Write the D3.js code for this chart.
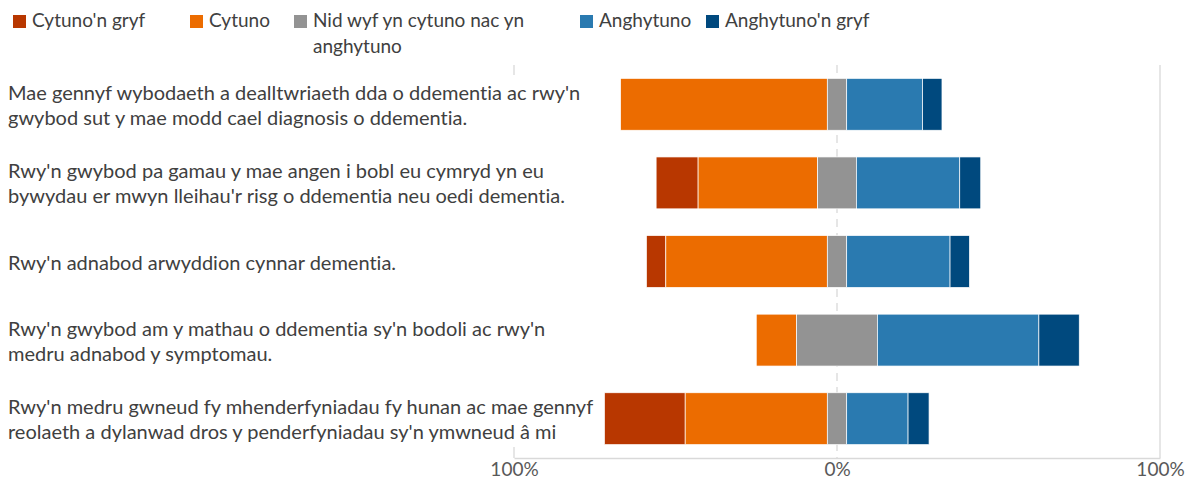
<!DOCTYPE html>
<html>
<head>
<meta charset="utf-8">
<script src="https://cdn.jsdelivr.net/npm/d3@7"></script>
<style>
  body { margin: 0; background: #fff; }
  text { font-family: Lato, "Noto Sans", sans-serif; font-variant-ligatures: none; }
</style>
</head>
<body>
<script>
// Statements (each split into the two lines shown)
const categories = [
    ["Mae gennyf wybodaeth a dealltwriaeth dda o ddementia ac rwy'n", "gwybod sut y mae modd cael diagnosis o ddementia."],
    ["Rwy'n gwybod pa gamau y mae angen i bobl eu cymryd yn eu", "bywydau er mwyn lleihau'r risg o ddementia neu oedi dementia."],
    ["Rwy'n adnabod arwyddion cynnar dementia."],
    ["Rwy'n gwybod am y mathau o ddementia sy'n bodoli ac rwy'n", "medru adnabod y symptomau."],
    ["Rwy'n medru gwneud fy mhenderfyniadau fy hunan ac mae gennyf", "reolaeth a dylanwad dros y penderfyniadau sy'n ymwneud â mi"]
];

const seriesNames = ["Cytuno'n gryf", "Cytuno", "Nid wyf yn cytuno nac yn anghytuno", "Anghytuno", "Anghytuno'n gryf"];

// percentages per statement
const cytunoGryf = [0, 13, 6, 0, 25];
const cytuno = [64, 37, 50, 12.5, 44];
const niwtral = [6, 12, 6, 25, 6];
const anghytuno = [23.5, 32, 32, 50, 19];
const anghytunoGryf = [6, 6.5, 6, 12.5, 6.5];

const tickValues = [-100, 0, 100];

const colors = ["#b83700", "#ec6c00", "#939393", "#2a7ab0", "#00497e"];

const width = 1194;
const height = 478;
const marginTop = 65;
const marginBottom = 20;
const plotLeft = 514;
const plotRight = 1160;

const seriesValues = [cytunoGryf, cytuno, niwtral, anghytuno, anghytunoGryf];

// build the stacked segments, neutral centred on zero
const rows = categories.map((c, i) => {
    let start = -(cytunoGryf[i] + cytuno[i] + niwtral[i] / 2);
    const segs = seriesValues.map((vals, s) => {
        const seg = { row: i, series: s, x0: start, x1: start + vals[i] };
        start += vals[i];
        return seg;
    });
    return segs;
}).flat();

const x = d3.scaleLinear()
    .domain([-100, 100])
    .range([plotLeft, plotRight]);

const y = d3.scaleBand()
    .domain(d3.range(categories.length))
    .range([marginTop, height - marginBottom])
    .paddingInner(0.34)
    .paddingOuter(0.17);

const svg = d3.select("body").append("svg")
    .attr("width", width)
    .attr("height", height);

// gridlines
svg.append("g")
    .selectAll("line")
    .data(tickValues)
    .join("line")
    .attr("x1", d => x(d))
    .attr("x2", d => x(d))
    .attr("y1", marginTop)
    .attr("y2", height - marginBottom)
    .attr("stroke", "#d9d9d9")
    .attr("stroke-width", 1.3)
    .attr("stroke-dasharray", d => d === 0 ? "8,6" : null);

// category labels (white box behind them hides the gridline like the original)
const labels = svg.append("g");
labels.append("rect")
    .attr("x", 0)
    .attr("y", marginTop + 10)
    .attr("width", 592)
    .attr("height", height - marginBottom - marginTop - 21)
    .attr("fill", "#fff");

labels.selectAll("text")
    .data(categories)
    .join("text")
    .attr("x", 8)
    .attr("y", (d, i) => y(i) + y.bandwidth() / 2 - (d.length - 1) * 12.5)
    .attr("fill", "#404040")
    .style("font-size", "20px")
    .attr("dominant-baseline", "central")
    .selectAll("tspan")
    .data(d => d)
    .join("tspan")
    .attr("x", 8)
    .attr("dy", (d, j) => j === 0 ? 0 : 25)
    .text(d => d);

// x axis
const xAxis = d3.axisBottom(x)
    .tickValues(tickValues)
    .tickFormat(d => Math.abs(d) + "%")
    .tickSize(0)
    .tickPadding(4);

svg.append("g")
    .attr("transform", `translate(0,${height - marginBottom})`)
    .call(xAxis)
    .call(g => g.select(".domain").attr("stroke", "#d9d9d9").attr("stroke-width", 1.3))
    .call(g => g.selectAll("text")
        .style("font-size", "19px")
        .style("font-family", "Lato, 'Noto Sans', sans-serif")
        .attr("fill", "#595959"));

// bars
svg.append("g")
    .selectAll("rect")
    .data(rows)
    .join("rect")
    .attr("x", d => x(d.x0))
    .attr("y", d => y(d.row))
    .attr("width", d => x(d.x1) - x(d.x0))
    .attr("height", y.bandwidth())
    .attr("fill", d => colors[d.series])
    .attr("stroke", "#fff")
    .attr("stroke-width", 0.7);

// legend
const legendX = [13, 190, 294, 580, 706];
const legendLines = [["Cytuno'n gryf"], ["Cytuno"], ["Nid wyf yn cytuno nac yn", "anghytuno"], ["Anghytuno"], ["Anghytuno'n gryf"]];

const legend = svg.append("g")
    .selectAll("g")
    .data(seriesNames)
    .join("g")
    .attr("transform", (d, i) => `translate(${legendX[i]},15)`);

legend.append("rect")
    .attr("width", 13)
    .attr("height", 13)
    .attr("fill", (d, i) => colors[i]);

legend.append("text")
    .attr("x", 19)
    .attr("y", 12)
    .attr("fill", "#404040")
    .style("font-size", "19px")
    .selectAll("tspan")
    .data((d, i) => legendLines[i])
    .join("tspan")
    .attr("x", 19)
    .attr("dy", (d, j) => j === 0 ? 0 : 26)
    .text(d => d);
</script>
</body>
</html>
